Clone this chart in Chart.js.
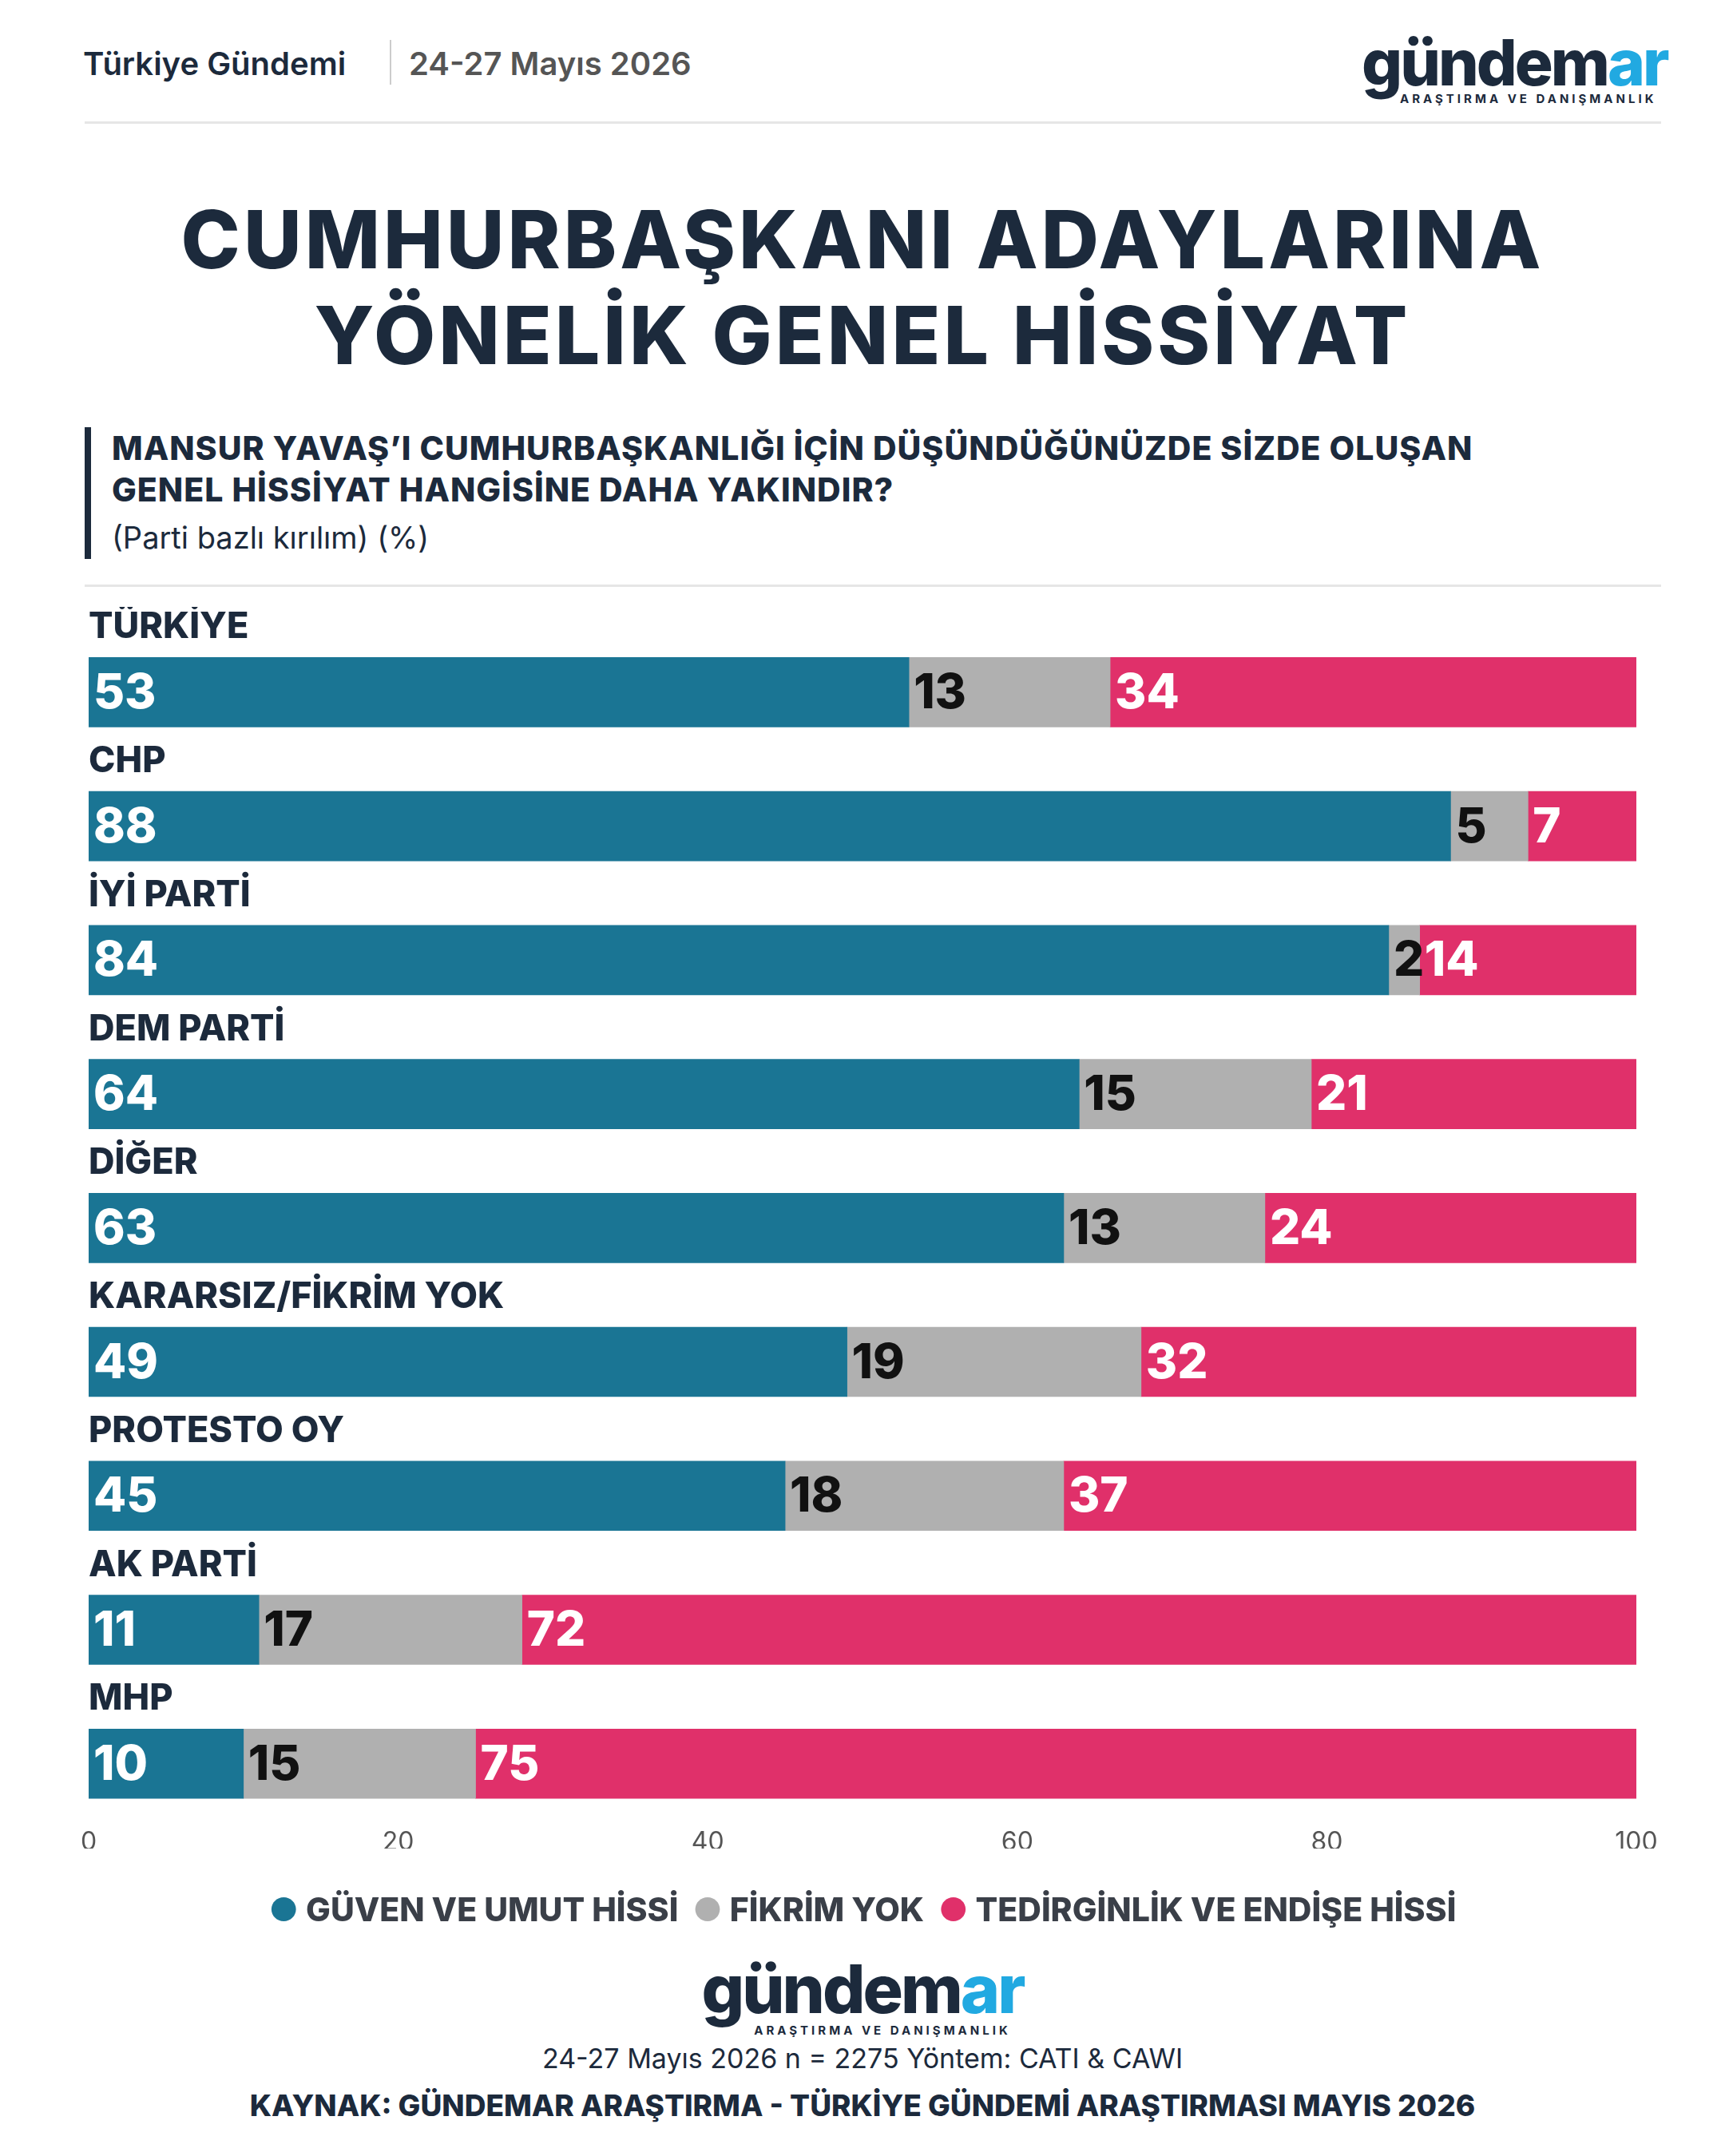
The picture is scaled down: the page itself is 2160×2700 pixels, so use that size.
<!DOCTYPE html>
<html><head><meta charset="utf-8">
<script src="https://cdn.jsdelivr.net/npm/chart.js@4.4.0/dist/chart.umd.min.js"></script>
<style>
body{margin:0;width:2160px;height:2700px;background:#fff;font-family:Inter,sans-serif;color:#1c2a3c;position:relative;overflow:hidden}
.abs{position:absolute}
.logo{font-weight:800;letter-spacing:-3px;color:#1c2a3c;line-height:1}
.logo span{color:#21a9e1}
.sub{font-size:15px;letter-spacing:4px;font-weight:700}
</style></head><body>
<div class="abs" style="left:104px;top:55px;font-size:40px;font-weight:600">Türkiye Gündemi</div>
<div class="abs" style="left:488px;top:50px;height:56px;border-left:2px solid #ccc"></div>
<div class="abs" style="left:512px;top:55px;font-size:40px;font-weight:600;color:#555">24-27 Mayıs 2026</div>
<div class="abs" style="left:1705px;top:38px;text-align:left">
 <div class="logo" style="font-size:80px">gündem<span>ar</span></div>
 <div class="sub" style="margin-left:48px;margin-top:-4px">ARAŞTIRMA VE DANIŞMANLIK</div>
</div>
<div class="abs" style="left:106px;top:152px;width:1974px;border-top:3px solid #e6e6e6"></div>
<div class="abs" style="left:0;top:240px;width:2160px;text-align:center;font-size:100px;font-weight:800;line-height:120px;letter-spacing:4px">CUMHURBAŞKANI ADAYLARINA<br>YÖNELİK GENEL HİSSİYAT</div>
<div class="abs" style="left:106px;top:535px;height:165px;border-left:8px solid #1c2a3c"></div>
<div class="abs" style="left:140px;top:535px;font-size:41px;font-weight:800;line-height:52px;letter-spacing:1px">MANSUR YAVAŞ’I CUMHURBAŞKANLIĞI İÇİN DÜŞÜNDÜĞÜNÜZDE SİZDE OLUŞAN<br>GENEL HİSSİYAT HANGİSİNE DAHA YAKINDIR?</div>
<div class="abs" style="left:140px;top:650px;font-size:38px">(Parti bazlı kırılım) (%)</div>
<div class="abs" style="left:106px;top:732px;width:1974px;border-top:3px solid #e6e6e6"></div>
<div class="abs" style="left:0;top:760px;width:2160px;height:1620px"><canvas id="c"></canvas></div>
<div class="abs" style="left:0;top:2366px;width:2160px;text-align:center;font-size:41px;font-weight:800;color:#3a3f48">
 <span style="color:#1a7594">●</span> GÜVEN VE UMUT HİSSİ &nbsp;<span style="color:#b0b0b0">●</span> FİKRİM YOK &nbsp;<span style="color:#e0306a">●</span> TEDİRGİNLİK VE ENDİŞE HİSSİ</div>
<div class="abs" style="left:0;top:2449px;width:2160px;text-align:center">
 <div class="logo" style="font-size:84px">gündem<span>ar</span></div>
 <div class="sub" style="margin-left:50px">ARAŞTIRMA VE DANIŞMANLIK</div>
</div>
<div class="abs" style="left:0;top:2557px;width:2160px;text-align:center;font-size:34px">24-27 Mayıs 2026 n = 2275 Yöntem: CATI &amp; CAWI</div>
<div class="abs" style="left:0;top:2614px;width:2160px;text-align:center;font-size:37px;font-weight:800">KAYNAK: GÜNDEMAR ARAŞTIRMA - TÜRKİYE GÜNDEMİ ARAŞTIRMASI MAYIS 2026</div>
<script>
const categories = ['TÜRKİYE','CHP','İYİ PARTİ','DEM PARTİ','DİĞER','KARARSIZ/FİKRİM YOK','PROTESTO OY','AK PARTİ','MHP'];
const guven = [53,88,84,64,63,49,45,11,10];
const fikrimYok = [13,5,2,15,13,19,18,17,15];
const endise = [34,7,14,21,24,32,37,72,75];
const xTicks = [0,20,40,60,80,100];

const labels = {
  id: 'labels',
  afterDatasetsDraw(chart) {
    const ctx = chart.ctx;
    ctx.save();
    ctx.textBaseline = 'middle';
    chart.data.datasets.forEach((ds, di) => {
      chart.getDatasetMeta(di).data.forEach((bar, i) => {
        ctx.font = '800 60px Inter';
        ctx.fillStyle = di === 1 ? '#111' : '#fff';
        ctx.textAlign = 'left';
        ctx.fillText(ds.data[i], bar.base + 6, bar.y + 2);
      });
    });
    const meta = chart.getDatasetMeta(0);
    ctx.font = '800 45px Inter';
    ctx.fillStyle = '#1c2a3c';
    meta.data.forEach((bar, i) => {
      ctx.fillText(categories[i], 111, bar.y - 81);
    });
    ctx.restore();
  }
};

new Chart('c', {
  type: 'bar',
  data: {
    labels: categories,
    datasets: [
      {data: guven, backgroundColor: '#1a7594'},
      {data: fikrimYok, backgroundColor: '#b0b0b0'},
      {data: endise, backgroundColor: '#e0306a'}
    ]
  },
  options: {
    indexAxis: 'y',
    responsive: true,
    maintainAspectRatio: false,
    animation: false,
    layout: {padding: {top: 23, bottom: 65, left: 111, right: 111}},
    datasets: {bar: {barThickness: 87}},
    plugins: {legend: {display: false}, tooltip: {enabled: false}},
    scales: {
      x: {
        stacked: true, min: 0, max: 100,
        afterBuildTicks: s => { s.ticks = xTicks.map(v => ({value: v})); },
        grid: {display: false}, border: {display: false},
        ticks: {font: {size: 32, family: 'Inter'}, color: '#555', padding: -12}
      },
      y: {stacked: true, display: false}
    }
  },
  plugins: [labels]
});
</script>
</body></html>
